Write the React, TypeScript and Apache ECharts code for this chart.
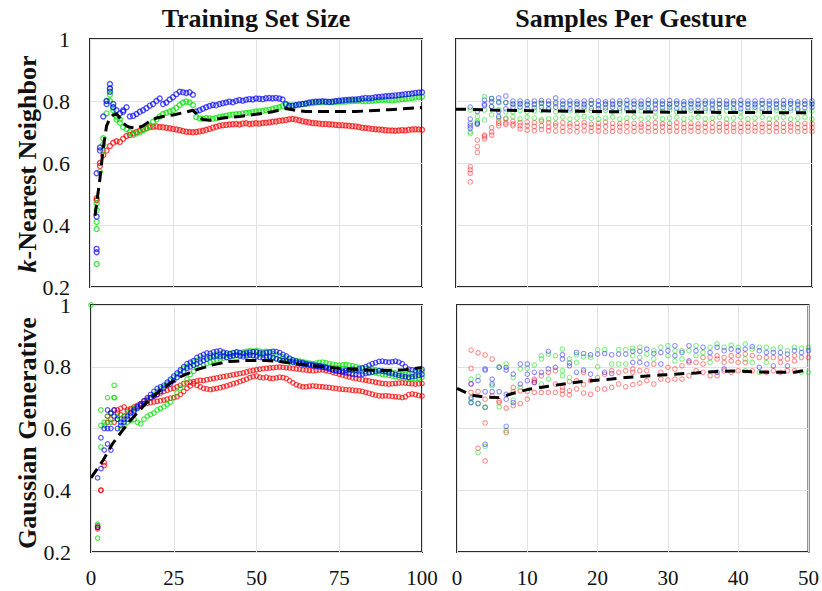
import React, { useEffect, useRef } from "react";
import * as echarts from "echarts";

const FONT = '"Liberation Serif", "Times New Roman", serif';

// ---------- Titles / labels ----------
const colTitles = ["Training Set Size", "Samples Per Gesture"];
const rowTitles = ["{i|k}-Nearest Neighbor", "Gaussian Generative"];
const yTicks = [0.2, 0.4, 0.6, 0.8, 1];
const leftXTicks = [0, 25, 50, 75, 100];
const rightXTicks = [0, 10, 20, 30, 40, 50];

// ---------- Top-left: kNN vs training set size (x = 2..100) ----------
const tlRed = [
  0.486, 0.59, 0.625, 0.64, 0.655, 0.665, 0.67, 0.668, 0.678, 0.687,
  0.69, 0.695, 0.7, 0.705, 0.71, 0.712, 0.715, 0.717, 0.718, 0.716,
  0.715, 0.714, 0.712, 0.71, 0.708, 0.706, 0.703, 0.701, 0.7, 0.699,
  0.7, 0.702, 0.704, 0.707, 0.71, 0.714, 0.717, 0.72, 0.722, 0.723,
  0.724, 0.725, 0.726, 0.724, 0.727, 0.728, 0.726, 0.727, 0.728, 0.727,
  0.729, 0.73, 0.731, 0.733, 0.734, 0.736, 0.737, 0.739, 0.741, 0.742,
  0.74, 0.738, 0.735, 0.733, 0.731, 0.729, 0.728, 0.727, 0.726, 0.726,
  0.725, 0.724, 0.723, 0.722, 0.722, 0.721, 0.72, 0.719, 0.718, 0.716,
  0.714, 0.713, 0.711, 0.71, 0.709, 0.708, 0.707, 0.706, 0.705, 0.705,
  0.704, 0.705, 0.706, 0.705, 0.707, 0.708, 0.709, 0.708, 0.707,
];
const tlGreen = [
  0.47, 0.572, 0.66, 0.76, 0.8, 0.77, 0.74, 0.73, 0.715, 0.71,
  0.7, 0.69, 0.695, 0.7, 0.706, 0.712, 0.72, 0.733, 0.74, 0.75,
  0.758, 0.762, 0.766, 0.77, 0.778, 0.787, 0.795, 0.798, 0.795, 0.787,
  0.748, 0.744, 0.743, 0.745, 0.744, 0.743, 0.745, 0.748, 0.75, 0.752,
  0.755, 0.756, 0.757, 0.758, 0.76, 0.761, 0.762, 0.764, 0.766, 0.767,
  0.768, 0.77, 0.772, 0.774, 0.777, 0.78, 0.784, 0.787, 0.786, 0.785,
  0.786, 0.788, 0.79, 0.791, 0.792, 0.794, 0.795, 0.796, 0.796, 0.797,
  0.797, 0.796, 0.797, 0.798, 0.798, 0.798, 0.799, 0.8, 0.8, 0.801,
  0.8, 0.799, 0.8, 0.801, 0.802, 0.803, 0.803, 0.804, 0.803, 0.802,
  0.803, 0.805, 0.806, 0.807, 0.808, 0.81, 0.811, 0.813, 0.814,
];
const tlBlue = [
  0.567, 0.64, 0.75, 0.79, 0.84, 0.78, 0.77, 0.76, 0.765, 0.78,
  0.75, 0.752, 0.758, 0.765, 0.77, 0.777, 0.785, 0.79, 0.8, 0.808,
  0.79, 0.795, 0.805, 0.812, 0.822, 0.83, 0.828, 0.826, 0.828, 0.82,
  0.766, 0.77, 0.775, 0.78, 0.784, 0.787, 0.786, 0.79, 0.793, 0.795,
  0.798, 0.796, 0.8, 0.803, 0.801, 0.804, 0.806, 0.805, 0.808, 0.807,
  0.806, 0.809, 0.81, 0.809, 0.81, 0.808, 0.805, 0.79, 0.784, 0.785,
  0.787, 0.789, 0.79, 0.792, 0.795, 0.797, 0.798, 0.798, 0.799, 0.798,
  0.797, 0.798, 0.8, 0.801, 0.802, 0.803, 0.804, 0.805, 0.805, 0.806,
  0.808, 0.81, 0.809, 0.81, 0.812, 0.813, 0.814, 0.815, 0.816, 0.817,
  0.818, 0.819, 0.82, 0.822, 0.823, 0.824, 0.826, 0.827, 0.828,
];
const tlRedExtra = [[2, 0.48], [3, 0.6]];
const tlGreenExtra = [[2, 0.448], [2, 0.41], [2, 0.387], [2, 0.274], [4, 0.68], [4, 0.64], [5, 0.8], [6, 0.82], [6, 0.84], [7, 0.78], [8, 0.75], [9, 0.74]];
const tlBlueExtra = [[2, 0.427], [2, 0.323], [2, 0.312], [3, 0.65], [5, 0.8], [6, 0.855], [6, 0.83], [7, 0.79], [10, 0.77]];
const tlMean = [
  [1.5, 0.43], [3, 0.55], [4, 0.65], [5, 0.72], [6, 0.745], [7, 0.755], [8, 0.758], [9, 0.745], [10, 0.728],
  [11, 0.72], [12, 0.715], [14, 0.712], [16, 0.72], [18, 0.735], [20, 0.745], [22, 0.75], [25, 0.755],
  [28, 0.762], [31, 0.77], [32, 0.76], [34, 0.74], [36, 0.738], [40, 0.745], [45, 0.75], [50, 0.757],
  [55, 0.765], [59, 0.776], [62, 0.77], [65, 0.766], [70, 0.766], [80, 0.766], [90, 0.772], [100, 0.779],
];

// ---------- Bottom-left: Gaussian vs training set size (x = 2..100, two runs per colour) ----------
const blRedA = [
  0.28, 0.4, 0.49, 0.62, 0.63, 0.66, 0.65, 0.645, 0.64, 0.655,
  0.66, 0.665, 0.672, 0.68, 0.688, 0.695, 0.7, 0.705, 0.71, 0.715,
  0.72, 0.724, 0.728, 0.73, 0.735, 0.74, 0.745, 0.748, 0.75, 0.752,
  0.754, 0.756, 0.755, 0.758, 0.76, 0.762, 0.764, 0.766, 0.768, 0.77,
  0.772, 0.774, 0.776, 0.778, 0.78, 0.783, 0.786, 0.788, 0.79, 0.792,
  0.794, 0.795, 0.796, 0.797, 0.798, 0.799, 0.798, 0.797, 0.796, 0.795,
  0.793, 0.792, 0.79, 0.789, 0.788, 0.787, 0.788, 0.789, 0.79, 0.788,
  0.785, 0.782, 0.779, 0.776, 0.773, 0.77, 0.767, 0.764, 0.762, 0.76,
  0.758, 0.756, 0.754, 0.752, 0.75, 0.748, 0.746, 0.745, 0.744, 0.745,
  0.746, 0.747, 0.748, 0.747, 0.746, 0.745, 0.744, 0.745, 0.746,
];
const blRedB = [
  0.275, 0.4, 0.48, 0.64, 0.65, 0.62, 0.66, 0.665, 0.67, 0.66,
  0.665, 0.67, 0.675, 0.678, 0.68, 0.682, 0.684, 0.686, 0.688, 0.69,
  0.692, 0.695, 0.698, 0.7, 0.703, 0.71, 0.72, 0.73, 0.738, 0.745,
  0.74, 0.735, 0.73, 0.728, 0.726, 0.728, 0.73, 0.732, 0.735, 0.738,
  0.742, 0.745, 0.748, 0.752, 0.756, 0.76, 0.765, 0.768, 0.77, 0.766,
  0.764, 0.766, 0.763, 0.762, 0.764, 0.766, 0.765, 0.762, 0.755, 0.748,
  0.742, 0.738, 0.735, 0.735, 0.737, 0.738, 0.737, 0.736, 0.735, 0.734,
  0.733, 0.731, 0.73, 0.728, 0.727, 0.726, 0.725, 0.724, 0.723, 0.722,
  0.72, 0.717, 0.714, 0.711, 0.708, 0.706, 0.705, 0.706, 0.705, 0.704,
  0.703, 0.702, 0.7, 0.703, 0.71, 0.712, 0.71, 0.707, 0.705,
];
const blGreenA = [
  0.29, 0.66, 0.61, 0.7, 0.65, 0.74, 0.64, 0.63, 0.64, 0.65,
  0.655, 0.665, 0.67, 0.675, 0.68, 0.69, 0.7, 0.71, 0.72, 0.728,
  0.735, 0.745, 0.755, 0.765, 0.775, 0.785, 0.795, 0.8, 0.81, 0.815,
  0.82, 0.825, 0.83, 0.832, 0.835, 0.838, 0.84, 0.842, 0.845, 0.84,
  0.843, 0.846, 0.848, 0.845, 0.848, 0.85, 0.852, 0.85, 0.853, 0.85,
  0.848, 0.85, 0.846, 0.843, 0.84, 0.836, 0.832, 0.828, 0.825, 0.822,
  0.82, 0.818, 0.816, 0.814, 0.812, 0.81, 0.812, 0.814, 0.815, 0.813,
  0.81, 0.808, 0.806, 0.805, 0.806, 0.807, 0.805, 0.803, 0.8, 0.798,
  0.796, 0.794, 0.793, 0.792, 0.79, 0.788, 0.786, 0.785, 0.784, 0.782,
  0.78, 0.778, 0.776, 0.775, 0.776, 0.778, 0.78, 0.782, 0.785,
];
const blGreenB = [
  0.245, 0.54, 0.62, 0.64, 0.62, 0.7, 0.63, 0.6, 0.61, 0.62,
  0.625, 0.63, 0.62, 0.615, 0.63, 0.64, 0.645, 0.65, 0.66, 0.665,
  0.67, 0.678, 0.685, 0.7, 0.715, 0.73, 0.745, 0.76, 0.775, 0.785,
  0.795, 0.8, 0.805, 0.81, 0.815, 0.82, 0.822, 0.825, 0.828, 0.83,
  0.832, 0.834, 0.836, 0.835, 0.838, 0.84, 0.838, 0.836, 0.838, 0.84,
  0.838, 0.835, 0.832, 0.828, 0.825, 0.822, 0.82, 0.818, 0.816, 0.815,
  0.813, 0.812, 0.81, 0.808, 0.806, 0.805, 0.804, 0.803, 0.802, 0.8,
  0.798, 0.797, 0.796, 0.795, 0.794, 0.792, 0.79, 0.788, 0.787, 0.786,
  0.785, 0.784, 0.783, 0.782, 0.78, 0.778, 0.776, 0.774, 0.772, 0.77,
  0.768, 0.766, 0.765, 0.764, 0.763, 0.762, 0.762, 0.763, 0.765,
];
const blBlueA = [
  0.44, 0.47, 0.53, 0.6, 0.65, 0.66, 0.63, 0.62, 0.63, 0.64,
  0.65, 0.66, 0.67, 0.68, 0.69, 0.7, 0.71, 0.72, 0.73, 0.735,
  0.74, 0.75, 0.76, 0.77, 0.78, 0.79, 0.8, 0.81, 0.815, 0.82,
  0.83, 0.835, 0.84, 0.845, 0.843, 0.848, 0.85, 0.852, 0.847, 0.845,
  0.842, 0.845, 0.848, 0.846, 0.843, 0.845, 0.847, 0.849, 0.848, 0.845,
  0.844, 0.846, 0.848, 0.85, 0.849, 0.846, 0.84, 0.835, 0.828, 0.822,
  0.818, 0.815, 0.813, 0.81, 0.808, 0.806, 0.805, 0.803, 0.8, 0.798,
  0.795, 0.79, 0.788, 0.785, 0.786, 0.788, 0.79, 0.792, 0.79, 0.793,
  0.796, 0.8, 0.805, 0.81, 0.813, 0.817, 0.818, 0.816, 0.815, 0.816,
  0.818, 0.815, 0.81, 0.8, 0.792, 0.79, 0.788, 0.79, 0.792,
];
const blBlueB = [
  0.28, 0.57, 0.6, 0.55, 0.6, 0.64, 0.6, 0.61, 0.62, 0.63,
  0.64, 0.655, 0.665, 0.675, 0.68, 0.69, 0.7, 0.705, 0.71, 0.72,
  0.73, 0.74, 0.745, 0.755, 0.765, 0.775, 0.785, 0.795, 0.8, 0.805,
  0.81, 0.815, 0.82, 0.825, 0.83, 0.832, 0.835, 0.833, 0.835, 0.83,
  0.833, 0.836, 0.838, 0.835, 0.832, 0.835, 0.838, 0.836, 0.833, 0.83,
  0.828, 0.83, 0.832, 0.83, 0.826, 0.822, 0.82, 0.818, 0.817, 0.815,
  0.812, 0.81, 0.808, 0.806, 0.805, 0.803, 0.801, 0.8, 0.798, 0.796,
  0.793, 0.79, 0.787, 0.785, 0.782, 0.78, 0.778, 0.776, 0.775, 0.774,
  0.776, 0.778, 0.78, 0.783, 0.785, 0.787, 0.786, 0.784, 0.78, 0.778,
  0.775, 0.772, 0.77, 0.768, 0.766, 0.768, 0.77, 0.772, 0.775,
];
const blRedExtra = [[2, 0.285]];
const blGreenExtra = [[0, 1.0], [3, 0.61], [7, 0.7]];
const blBlueExtra = [[5, 0.66], [6, 0.53]];
const blMean = [
  [0, 0.44], [3.7, 0.498], [6.6, 0.552], [9.6, 0.595], [11.6, 0.622], [16.6, 0.682], [21.7, 0.73],
  [26.7, 0.766], [31.7, 0.79], [36.7, 0.806], [41.7, 0.817], [46.8, 0.82], [52.8, 0.82], [57, 0.817],
  [67, 0.803], [77.3, 0.793], [87.3, 0.788], [95, 0.79], [100, 0.798],
];

// ---------- Top-right: kNN vs samples per gesture (x = 2..50, three per colour) ----------
const trRed1 = [
  0.588, 0.674, 0.69, 0.714, 0.735, 0.742, 0.735, 0.73, 0.732, 0.73,
  0.735, 0.73, 0.728, 0.73, 0.727, 0.728, 0.73, 0.725, 0.728, 0.732,
  0.728, 0.727, 0.73, 0.728, 0.725, 0.728, 0.73, 0.727, 0.728, 0.73,
  0.727, 0.728, 0.726, 0.728, 0.73, 0.727, 0.728, 0.726, 0.728, 0.727,
  0.728, 0.726, 0.728, 0.727, 0.728, 0.726, 0.727, 0.728, 0.727,
];
const trRed2 = [
  0.567, 0.653, 0.685, 0.7, 0.728, 0.73, 0.726, 0.72, 0.72, 0.718,
  0.72, 0.716, 0.72, 0.715, 0.718, 0.716, 0.72, 0.715, 0.716, 0.718,
  0.715, 0.716, 0.718, 0.715, 0.716, 0.714, 0.716, 0.717, 0.715, 0.716,
  0.714, 0.716, 0.715, 0.716, 0.714, 0.715, 0.716, 0.714, 0.715, 0.716,
  0.714, 0.715, 0.716, 0.714, 0.715, 0.716, 0.714, 0.715, 0.714,
];
const trRed3 = [
  0.539, 0.634, 0.678, 0.69, 0.72, 0.725, 0.72, 0.71, 0.706, 0.704,
  0.708, 0.704, 0.703, 0.702, 0.703, 0.701, 0.704, 0.702, 0.703, 0.701,
  0.702, 0.703, 0.701, 0.702, 0.703, 0.701, 0.702, 0.701, 0.703, 0.702,
  0.701, 0.703, 0.702, 0.701, 0.702, 0.703, 0.701, 0.702, 0.701, 0.702,
  0.703, 0.701, 0.702, 0.701, 0.702, 0.703, 0.701, 0.702, 0.701,
];
const trGreen1 = [
  0.771, 0.75, 0.814, 0.808, 0.798, 0.795, 0.79, 0.792, 0.79, 0.788,
  0.795, 0.79, 0.79, 0.788, 0.792, 0.79, 0.788, 0.79, 0.785, 0.79,
  0.788, 0.79, 0.792, 0.79, 0.788, 0.79, 0.792, 0.79, 0.788, 0.79,
  0.79, 0.792, 0.788, 0.79, 0.792, 0.79, 0.788, 0.79, 0.792, 0.79,
  0.788, 0.79, 0.792, 0.79, 0.788, 0.79, 0.792, 0.79, 0.793,
];
const trGreen2 = [
  0.7, 0.735, 0.771, 0.782, 0.772, 0.765, 0.765, 0.77, 0.765, 0.768,
  0.77, 0.772, 0.765, 0.77, 0.768, 0.765, 0.77, 0.768, 0.765, 0.77,
  0.765, 0.768, 0.77, 0.765, 0.768, 0.77, 0.765, 0.768, 0.77, 0.765,
  0.768, 0.77, 0.765, 0.768, 0.77, 0.765, 0.768, 0.77, 0.765, 0.768,
  0.77, 0.765, 0.768, 0.77, 0.765, 0.768, 0.77, 0.765, 0.768,
];
const trGreen3 = [
  0.695, 0.73, 0.739, 0.755, 0.745, 0.745, 0.75, 0.742, 0.748, 0.745,
  0.74, 0.742, 0.745, 0.748, 0.742, 0.745, 0.75, 0.744, 0.742, 0.745,
  0.748, 0.742, 0.745, 0.748, 0.742, 0.745, 0.748, 0.742, 0.745, 0.748,
  0.742, 0.745, 0.748, 0.742, 0.745, 0.748, 0.742, 0.745, 0.748, 0.742,
  0.745, 0.748, 0.742, 0.745, 0.748, 0.742, 0.745, 0.748, 0.742,
];
const trBlue1 = [
  0.78, 0.766, 0.803, 0.808, 0.81, 0.816, 0.8, 0.8, 0.798, 0.8,
  0.802, 0.8, 0.81, 0.8, 0.8, 0.798, 0.8, 0.802, 0.8, 0.798,
  0.8, 0.8, 0.802, 0.8, 0.8, 0.803, 0.8, 0.8, 0.802, 0.8,
  0.798, 0.8, 0.802, 0.8, 0.8, 0.802, 0.8, 0.8, 0.802, 0.8,
  0.8, 0.802, 0.8, 0.8, 0.802, 0.8, 0.798, 0.8, 0.8,
];
const trBlue2 = [
  0.742, 0.728, 0.79, 0.798, 0.795, 0.795, 0.79, 0.79, 0.788, 0.79,
  0.792, 0.79, 0.795, 0.79, 0.788, 0.79, 0.79, 0.792, 0.788, 0.79,
  0.79, 0.792, 0.788, 0.79, 0.79, 0.792, 0.788, 0.79, 0.79, 0.792,
  0.788, 0.79, 0.79, 0.792, 0.788, 0.79, 0.79, 0.792, 0.788, 0.79,
  0.79, 0.792, 0.788, 0.79, 0.79, 0.792, 0.788, 0.79, 0.79,
];
const trBlue3 = [
  0.72, 0.725, 0.785, 0.782, 0.766, 0.775, 0.78, 0.78, 0.775, 0.778,
  0.78, 0.776, 0.78, 0.778, 0.775, 0.778, 0.78, 0.776, 0.775, 0.778,
  0.78, 0.776, 0.775, 0.778, 0.78, 0.776, 0.775, 0.778, 0.78, 0.776,
  0.775, 0.778, 0.78, 0.776, 0.775, 0.778, 0.78, 0.776, 0.775, 0.778,
  0.78, 0.776, 0.775, 0.778, 0.78, 0.776, 0.775, 0.778, 0.78,
];
const trRedExtra = [[2, 0.578]];
const trBlueExtra = [[2, 0.728], [2, 0.712], [6, 0.75]];
const trMean = [[0, 0.773], [2, 0.773], [5, 0.771], [10, 0.769], [20, 0.766], [30, 0.764], [40, 0.763], [50, 0.762]];

// ---------- Bottom-right: Gaussian vs samples per gesture (one list per x = 2..50) ----------
const brRed = [
  [0.854, 0.795, 0.745, 0.717], [0.845, 0.72, 0.536], [0.838, 0.695, 0.618, 0.495], [0.825, 0.706], [0.69, 0.684],
  [0.666, 0.587], [0.733, 0.719, 0.674], [0.722, 0.681], [0.72, 0.695], [0.76, 0.755, 0.749, 0.717],
  [0.771, 0.717], [0.782, 0.717], [0.787, 0.744, 0.717], [0.733, 0.724, 0.711], [0.752, 0.722, 0.709],
  [0.755, 0.728], [0.782, 0.742, 0.715], [0.755, 0.711], [0.765, 0.728], [0.776, 0.728],
  [0.787, 0.733], [0.782, 0.744], [0.787, 0.735], [0.793, 0.782, 0.742], [0.787, 0.747],
  [0.787, 0.755], [0.809, 0.744], [0.782, 0.76], [0.798, 0.757], [0.793, 0.76],
  [0.803, 0.76], [0.814, 0.771], [0.814, 0.787], [0.83, 0.809, 0.782], [0.83, 0.771],
  [0.836, 0.825, 0.771], [0.83, 0.814, 0.787], [0.836, 0.819, 0.782], [0.836, 0.814, 0.787], [0.841, 0.814],
  [0.836, 0.787], [0.83], [0.83, 0.782], [0.83, 0.787], [0.83, 0.814, 0.782],
  [0.825, 0.787], [0.836, 0.819, 0.787], [0.83], [0.83],
];
const brGreen = [
  [0.76, 0.695, 0.684], [0.769, 0.681, 0.522], [0.67, 0.542], [0.738], [0.8, 0.67],
  [0.809, 0.593], [0.765, 0.692], [0.793, 0.733], [0.795], [0.806],
  [0.836, 0.825, 0.744], [0.841, 0.76], [0.836], [0.857, 0.787, 0.771], [0.825, 0.765],
  [0.839, 0.814], [0.832], [0.83], [0.855, 0.8], [0.855],
  [0.809], [0.855, 0.809], [0.855, 0.809], [0.86, 0.836], [0.863, 0.83],
  [0.841], [0.852, 0.825], [0.863], [0.868, 0.836], [0.852, 0.819],
  [0.852, 0.825], [0.852], [0.868, 0.836], [0.846], [0.863, 0.814],
  [0.874], [0.863], [0.87], [0.863], [0.874, 0.825, 0.787],
  [0.857, 0.814], [0.863, 0.782], [0.863, 0.814], [0.857], [0.863],
  [0.852], [0.863], [0.86, 0.782], [0.863, 0.782],
];
const brBlue = [
  [0.744, 0.7, 0.684], [0.755, 0.681], [0.793, 0.789, 0.719, 0.668, 0.549], [0.76, 0.744, 0.719], [0.798, 0.719],
  [0.798, 0.789, 0.711, 0.695, 0.607], [0.776, 0.684], [0.809, 0.744], [0.809, 0.776, 0.755], [0.782, 0.749],
  [0.782], [0.85, 0.793], [0.798], [0.839, 0.825], [0.812, 0.803],
  [0.846, 0.782], [0.843, 0.789], [0.839, 0.776], [0.841], [0.843, 0.782],
  [0.839, 0.778], [0.841], [0.841], [0.85, 0.814], [0.85, 0.814],
  [0.857, 0.809], [0.843], [0.846, 0.809], [0.852], [0.868, 0.836],
  [0.846], [0.868, 0.819], [0.852], [0.863], [0.846],
  [0.863, 0.782], [0.852, 0.793], [0.857], [0.852], [0.857],
  [0.865], [0.852, 0.798], [0.846], [0.846, 0.803], [0.846],
  [0.841, 0.803], [0.852], [0.846], [0.852],
];
const brMean = [
  [0, 0.73], [2, 0.708], [4, 0.702], [6, 0.7], [8, 0.714], [10, 0.726], [13, 0.737], [16, 0.747],
  [19, 0.755], [22, 0.76], [24, 0.765], [26, 0.768], [29, 0.773], [31, 0.776], [34, 0.78], [37, 0.785],
  [40, 0.786], [42, 0.784], [45, 0.782], [48, 0.782], [50, 0.79],
];

// ---------- helpers that turn the arrays into [x, y] pairs ----------
function seq(vals: number[], firstX: number): number[][] {
  return vals.map((v, i) => [firstX + i, v]);
}
function cols(columns: number[][], firstX: number): number[][] {
  const out: number[][] = [];
  columns.forEach((c, i) => c.forEach((v) => out.push([firstX + i, v])));
  return out;
}

const RED_L = "rgba(255,0,0,0.9)";
const GREEN_L = "rgba(0,225,0,0.9)";
const BLUE_L = "rgba(0,0,255,0.85)";
const RED_R = "rgba(255,20,20,0.6)";
const GREEN_R = "rgba(0,220,0,0.6)";
const BLUE_R = "rgba(20,20,255,0.6)";

export default function App() {
  const ref = useRef<HTMLDivElement>(null);

  useEffect(() => {
    if (!ref.current) return;
    const chart = echarts.init(ref.current, null, { renderer: "svg" });

    const grids = [
      { left: 90, top: 39, width: 332, height: 248 },
      { left: 456, top: 39, width: 356, height: 248 },
      { left: 91, top: 305, width: 331, height: 247 },
      { left: 457, top: 305, width: 353, height: 247 },
    ].map((g) => ({ ...g, show: true, borderColor: "#2a2a2a", borderWidth: 2, backgroundColor: "transparent" }));

    const split = { show: true, lineStyle: { color: "#e2e2e2", width: 1 } };

    const xAxis = [0, 1, 2, 3].map((i) => {
      const left = i % 2 === 0;
      const ticks = left ? leftXTicks : rightXTicks;
      return {
        type: "value",
        gridIndex: i,
        min: ticks[0],
        max: ticks[ticks.length - 1],
        interval: ticks[1] - ticks[0],
        axisLine: { show: false },
        axisTick: { show: false },
        splitLine: split,
        axisLabel: {
          show: i >= 2,
          fontFamily: FONT,
          fontSize: 21,
          color: "#111",
          margin: 15,
        },
      };
    });

    const yAxis = [0, 1, 2, 3].map((i) => ({
      type: "value",
      gridIndex: i,
      min: yTicks[0],
      max: yTicks[yTicks.length - 1],
      interval: 0.2,
      axisLine: { show: false },
      axisTick: { show: false },
      splitLine: split,
      axisLabel: {
        show: i % 2 === 0,
        fontFamily: FONT,
        fontSize: 22,
        color: "#111",
        margin: 20,
        formatter: (v: number) => String(Math.round(v * 10) / 10),
      },
    }));

    const sc = (data: number[][], idx: number, color: string, size: number, bw: number) => ({
      type: "scatter",
      xAxisIndex: idx,
      yAxisIndex: idx,
      data,
      symbol: "circle",
      symbolSize: size,
      silent: true,
      itemStyle: { color: "rgba(0,0,0,0)", borderColor: color, borderWidth: bw },
      z: 2,
    });
    const ln = (data: number[][], idx: number, dash: number[]) => ({
      type: "line",
      xAxisIndex: idx,
      yAxisIndex: idx,
      data,
      symbol: "none",
      showSymbol: false,
      silent: true,
      lineStyle: { color: "#000", width: 3, type: dash },
      z: 5,
    });

    const series = [
      sc(seq(tlRed, 2).concat(tlRedExtra), 0, RED_L, 5, 1.4),
      sc(seq(tlGreen, 2).concat(tlGreenExtra), 0, GREEN_L, 5, 1.4),
      sc(seq(tlBlue, 2).concat(tlBlueExtra), 0, BLUE_L, 5, 1.4),
      ln(tlMean, 0, [11, 6]),

      sc(seq(trRed1, 2).concat(seq(trRed2, 2), seq(trRed3, 2), trRedExtra), 1, RED_R, 4.5, 1.1),
      sc(seq(trGreen1, 2).concat(seq(trGreen2, 2), seq(trGreen3, 2)), 1, GREEN_R, 4.5, 1.1),
      sc(seq(trBlue1, 2).concat(seq(trBlue2, 2), seq(trBlue3, 2), trBlueExtra), 1, BLUE_R, 4.5, 1.1),
      ln(trMean, 1, [10, 7]),

      sc(seq(blRedA, 2).concat(seq(blRedB, 2), blRedExtra), 2, RED_L, 4.5, 1.2),
      sc(seq(blGreenA, 2).concat(seq(blGreenB, 2), blGreenExtra), 2, GREEN_L, 4.5, 1.2),
      sc(seq(blBlueA, 2).concat(seq(blBlueB, 2), blBlueExtra), 2, BLUE_L, 4.5, 1.2),
      ln(blMean, 2, [11, 6]),

      sc(cols(brRed, 2), 3, RED_R, 4.5, 1.1),
      sc(cols(brGreen, 2), 3, GREEN_R, 4.5, 1.1),
      sc(cols(brBlue, 2), 3, BLUE_R, 4.5, 1.1),
      ln(brMean, 3, [10, 7]),
    ];

    const titleStyle = {
      fontFamily: FONT,
      fontSize: 26,
      fontWeight: "bold",
      fill: "#111",
      align: "center",
      verticalAlign: "middle",
    };

    const graphic = [
      { type: "text", x: 256, y: 18, style: { ...titleStyle, text: colTitles[0] } },
      { type: "text", x: 631, y: 18, style: { ...titleStyle, text: colTitles[1] } },
      {
        type: "text",
        x: 27,
        y: 164,
        rotation: Math.PI / 2,
        style: {
          ...titleStyle,
          text: rowTitles[0],
          rich: { i: { fontFamily: FONT, fontSize: 26, fontWeight: "bold", fontStyle: "italic", fill: "#111" } },
        },
      },
      { type: "text", x: 27, y: 433, rotation: Math.PI / 2, style: { ...titleStyle, text: rowTitles[1] } },
    ];

    chart.setOption({
      animation: false,
      backgroundColor: "#ffffff",
      grid: grids,
      xAxis,
      yAxis,
      series,
      graphic,
    });

    return () => chart.dispose();
  }, []);

  return (
    <div
      ref={ref}
      style={{ position: "absolute", left: 0, top: 0, width: 822, height: 591, background: "#fff" }}
    />
  );
}
